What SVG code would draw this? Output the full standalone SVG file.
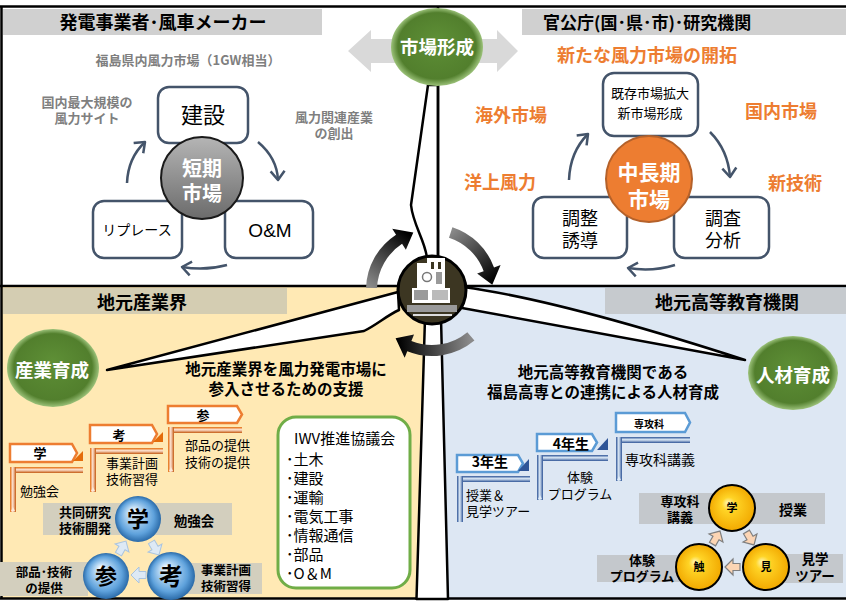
<svg xmlns="http://www.w3.org/2000/svg" width="846" height="602" viewBox="0 0 846 602">
  <style>
    text { font-family: "Noto Sans CJK JP", "Noto Sans", sans-serif; }
    .b { font-weight: 700; }
    .c { text-anchor: middle; }
    .gray { fill: #7F7F7F; }
    .org { fill: #ED7D31; }
    .wh { fill: #ffffff; }
    .box { fill: #ffffff; stroke: #44546A; stroke-width: 2.5; }
    .cyc { fill: none; stroke: #44546A; stroke-width: 2.5; marker-end: url(#chev); }
    .blade { fill: #ffffff; stroke: #000000; stroke-width: 2.5; stroke-linejoin: round; }
    .opent { fill: #ffffff; stroke: #ED7D31; stroke-width: 2.5; }
    .bpent { fill: #ffffff; stroke: #5B9BD5; stroke-width: 2.5; }
    .lblL { fill: #D3CFBE; }
    .lblR { fill: #C4C8CC; }
    .barow { fill: #DDE9F5; stroke: #A9C4E0; stroke-width: 1; }
    .parow { fill: #FCD5B4; stroke: #7F7F7F; stroke-width: 1.2; }
    .otip { fill: #FDE9D9; }
    .btip { fill: #DEEBF7; }
  </style>
  <defs>
    <marker id="chev" markerUnits="userSpaceOnUse" markerWidth="24" markerHeight="24" viewBox="-12 -12 24 24" refX="0" refY="0" orient="auto">
      <path d="M-9,-7 L0,0 L-9,7" fill="none" stroke="#44546A" stroke-width="2.5" stroke-linejoin="round"/>
    </marker>
    <radialGradient id="gBall" cx="50%" cy="50%" r="50%" fx="50%" fy="40%">
      <stop offset="0" stop-color="#5E8F36"/>
      <stop offset="0.85" stop-color="#527F2D"/>
      <stop offset="1" stop-color="#9CC27A"/>
    </radialGradient>
    <linearGradient id="grayBall" x1="0" y1="0" x2="0" y2="1">
      <stop offset="0" stop-color="#B5B5B5"/>
      <stop offset="1" stop-color="#6B6B6B"/>
    </linearGradient>
    <radialGradient id="blueBall" cx="50%" cy="50%" r="50%" fx="38%" fy="32%">
      <stop offset="0" stop-color="#FFFFFF"/>
      <stop offset="0.25" stop-color="#C4E0F7"/>
      <stop offset="0.75" stop-color="#5FA2DC"/>
      <stop offset="1" stop-color="#2A6AA8"/>
    </radialGradient>
    <radialGradient id="yelBall" cx="50%" cy="50%" r="50%" fx="40%" fy="38%">
      <stop offset="0" stop-color="#FFF6B0"/>
      <stop offset="0.3" stop-color="#FFD426"/>
      <stop offset="1" stop-color="#F2A900"/>
    </radialGradient>
    <linearGradient id="obH" x1="0" y1="0" x2="0" y2="1">
      <stop offset="0" stop-color="#E46C0A"/>
      <stop offset="0.45" stop-color="#FCE4D6"/>
      <stop offset="1" stop-color="#C55A11"/>
    </linearGradient>
    <linearGradient id="obV" x1="0" y1="0" x2="1" y2="0">
      <stop offset="0" stop-color="#E46C0A"/>
      <stop offset="0.45" stop-color="#FCE4D6"/>
      <stop offset="1" stop-color="#C55A11"/>
    </linearGradient>
    <linearGradient id="bbH" x1="0" y1="0" x2="0" y2="1">
      <stop offset="0" stop-color="#2F5597"/>
      <stop offset="0.45" stop-color="#DEEBF7"/>
      <stop offset="1" stop-color="#2F5597"/>
    </linearGradient>
    <linearGradient id="bbV" x1="0" y1="0" x2="1" y2="0">
      <stop offset="0" stop-color="#2F5597"/>
      <stop offset="0.45" stop-color="#DEEBF7"/>
      <stop offset="1" stop-color="#2F5597"/>
    </linearGradient>
    <linearGradient id="arc1" gradientUnits="userSpaceOnUse" x1="372" y1="288" x2="410" y2="235">
      <stop offset="0" stop-color="#8A8A8A"/>
      <stop offset="1" stop-color="#000000"/>
    </linearGradient>
    <linearGradient id="arc2" gradientUnits="userSpaceOnUse" x1="450" y1="232" x2="492" y2="282">
      <stop offset="0" stop-color="#8A8A8A"/>
      <stop offset="1" stop-color="#000000"/>
    </linearGradient>
    <linearGradient id="arc3" gradientUnits="userSpaceOnUse" x1="470" y1="336" x2="398" y2="340">
      <stop offset="0" stop-color="#8A8A8A"/>
      <stop offset="1" stop-color="#000000"/>
    </linearGradient>
    <path id="blk" d="M-7,-3.5 H0 V-8 L8,0 L0,8 V3.5 H-7 Z"/>
  </defs>

  <!-- quadrant backgrounds -->
  <rect x="0" y="0" width="846" height="602" fill="#ffffff"/>
  <rect x="2" y="287" width="422" height="311" fill="#FFE9B4"/>
  <rect x="424" y="287" width="422" height="311" fill="#DDE7F3"/>

  <!-- section headers -->
  <g id="hdr-makers">
    <rect x="3" y="9" width="319" height="26" fill="#D0D0D0"/>
    <text class="b c" x="163" y="29" font-size="18">発電事業者･風車メーカー</text>
  </g>
  <g id="hdr-gov">
    <rect x="522" y="9" width="324" height="26" fill="#D0D0D0"/>
    <text class="b" x="543" y="28.5" font-size="17">官公庁(国･県･市)･研究機関</text>
  </g>
  <g id="hdr-industry">
    <rect x="3" y="288" width="284" height="26" fill="#D4CDB2"/>
    <text class="b c" x="142" y="309" font-size="18">地元産業界</text>
  </g>
  <g id="hdr-college">
    <rect x="605" y="288" width="241" height="26" fill="#C6CACE"/>
    <text class="b c" x="727" y="309" font-size="18">地元高等教育機関</text>
  </g>

  <!-- frame lines -->
  <g id="frame" stroke="#000" fill="none">
    <line x1="0" y1="6.5" x2="846" y2="6.5" stroke-width="2.5"/>
    <line x1="1.5" y1="6" x2="1.5" y2="599" stroke-width="2.5"/>
    <line x1="0" y1="598.5" x2="846" y2="598.5" stroke-width="2.5"/>
    <line x1="0" y1="286" x2="846" y2="286" stroke-width="2.5"/>
  </g>

  <!-- wind turbine: tower and blades -->
  <g id="turbine">
    <path class="blade" d="M425,318 L416.5,599 L448,599 L441,318 Z"/>
    <path class="blade" d="M428,85 L411,205 C413,225 425,240 427,258 L438,258 L438,85 Z"/>
    <line x1="438" y1="7" x2="438" y2="258" stroke="#000" stroke-width="2.5"/>
    <path class="blade" d="M107,370 L398,292 L399,310 C386,316 378,324 364,331 Z"/>
    <path class="blade" d="M745,360 Q560,300 463,287 L462,308 Z"/>
  </g>

  <!-- rotating arrows round the hub -->
  <g id="hub-arrows">
    <path fill="url(#arc1)" d="M366.04,287.70 A66,66 0 0 1 396.06,234.65 L392.24,228.78 L413.31,232.46 L405.86,249.74 L402.05,243.87 A55,55 0 0 0 377.03,288.08 Z"/>
    <path fill="url(#arc2)" d="M452.39,227.23 A66,66 0 0 1 494.02,267.43 L500.60,265.03 L492.27,284.73 L477.11,273.58 L483.68,271.19 A55,55 0 0 0 449.00,237.69 Z"/>
    <path fill="url(#arc3)" d="M474.42,340.56 A66,66 0 0 1 407.28,351.19 L404.65,357.69 L395.59,338.32 L414.02,334.51 L411.40,341.00 A55,55 0 0 0 467.35,332.13 Z"/>
  </g>

  <!-- hub with school building emblem -->
  <g id="hub">
    <circle cx="432" cy="290" r="34" fill="#3C3622" stroke="#000" stroke-width="3"/>
    <rect x="417" y="263" width="10" height="25" fill="#fff"/>
    <rect x="427" y="258" width="18" height="30" fill="#fff"/>
    <rect x="431" y="262" width="3" height="7" fill="#3C3622"/>
    <rect x="438" y="262" width="3" height="7" fill="#3C3622"/>
    <rect x="436" y="272" width="6" height="12" fill="#9A9A9A"/>
    <circle cx="427" cy="277" r="4.5" fill="#fff" stroke="#777" stroke-width="1.5"/>
    <rect x="412" y="288" width="38" height="15" fill="#fff"/>
    <rect x="414" y="290" width="14" height="10" fill="#9A9A9A"/>
    <rect x="432" y="290" width="16" height="10" fill="#BBBBBB"/>
    <rect x="407" y="305" width="50" height="7" fill="#9A9A9A"/>
    <rect x="413" y="314" width="39" height="2" fill="#DDDDDD"/>
  </g>

  <!-- market formation badge -->
  <g id="market-forming">
    <polygon points="348,51 371,30 371,39 497,39 497,30 518,51 497,72 497,63 371,63 371,72" fill="#D9D9D9"/>
    <ellipse cx="437" cy="47" rx="46" ry="39" fill="url(#gBall)"/>
    <text class="b c wh" x="437" y="54" font-size="18.5">市場形成</text>
  </g>

  <!-- short-term market cycle -->
  <g id="short-term">
    <text class="b c gray" x="188" y="65" font-size="13">福島県内風力市場（1GW相当）</text>
    <text class="b c gray" font-size="13"><tspan x="87" y="106.5">国内最大規模の</tspan><tspan x="87" y="123">風力サイト</tspan></text>
    <text class="b c gray" font-size="13"><tspan x="334" y="121.5">風力関連産業</tspan><tspan x="334" y="138">の創出</tspan></text>
    <g id="st-build">
      <rect class="box" x="158" y="87" width="90" height="56" rx="11"/>
      <text class="c" x="203" y="123" font-size="22">建設</text>
    </g>
    <g id="st-replace">
      <rect class="box" x="93" y="201" width="89" height="57" rx="11"/>
      <text class="c" x="137" y="235" font-size="14">リプレース</text>
    </g>
    <g id="st-om">
      <rect class="box" x="225" y="201" width="88" height="57" rx="11"/>
      <text class="c" x="270" y="237" font-size="19" style="font-family:'Liberation Sans',sans-serif">O&amp;M</text>
    </g>
    <g id="st-core">
      <circle cx="202" cy="178" r="41" fill="url(#grayBall)" stroke="#1A1A1A" stroke-width="2"/>
      <text class="b c wh" font-size="20"><tspan x="202" y="175.5">短期</tspan><tspan x="202" y="200.5">市場</tspan></text>
    </g>
  </g>

  <!-- mid/long-term market cycle -->
  <g id="long-term">
    <text class="b c org" x="647" y="62" font-size="18">新たな風力市場の開拓</text>
    <text class="b c org" x="511" y="122" font-size="18">海外市場</text>
    <text class="b c org" x="781" y="118" font-size="18">国内市場</text>
    <text class="b c org" x="500" y="189" font-size="18">洋上風力</text>
    <text class="b c org" x="795" y="190" font-size="18">新技術</text>
    <g id="lt-expand">
      <rect class="box" x="603" y="73" width="95" height="63" rx="11"/>
      <text class="c" font-size="13"><tspan x="650" y="98">既存市場拡大</tspan><tspan x="650" y="118">新市場形成</tspan></text>
    </g>
    <g id="lt-coord">
      <rect class="box" x="533" y="197" width="94" height="61" rx="11"/>
      <text class="c" font-size="18"><tspan x="580" y="224.5">調整</tspan><tspan x="580" y="247">誘導</tspan></text>
    </g>
    <g id="lt-survey">
      <rect class="box" x="674" y="197" width="95" height="61" rx="11"/>
      <text class="c" font-size="18"><tspan x="723" y="224.5">調査</tspan><tspan x="723" y="247">分析</tspan></text>
    </g>
    <g id="lt-core">
      <circle cx="649" cy="179" r="43" fill="#ED7D31" stroke="#B4612A" stroke-width="2"/>
      <text class="b c wh" font-size="21"><tspan x="649" y="180">中長期</tspan><tspan x="649" y="206.5">市場</tspan></text>
    </g>
  </g>

  <!-- cycle connectors -->
  <g id="connectors">
    <path class="cyc" d="M127,183 Q128,158 145,142"/>
    <path class="cyc" d="M258,142 Q277,158 278,180"/>
    <path class="cyc" d="M227,265 Q205,271 182,267"/>
    <path class="cyc" d="M569,180 Q570,152 588,134"/>
    <path class="cyc" d="M710,132 Q728,150 730,177"/>
    <path class="cyc" d="M675,265 Q652,272 628,268"/>
  </g>

  <!-- industry support -->
  <g id="industry-growth">
    <ellipse cx="53" cy="368" rx="46" ry="39" fill="url(#gBall)"/>
    <text class="b c wh" x="52" y="377" font-size="18.5">産業育成</text>
  </g>
  <text class="b c" font-size="15.5"><tspan x="286" y="375">地元産業界を風力発電市場に</tspan><tspan x="286" y="394.5">参入させるための支援</tspan></text>

  <g id="step-learn">
    <path class="opent" d="M10,444 H72 L77,453 L72,462 H10 Z"/>
    <polygon points="73,461 83,461 83,451" fill="#E46C0A"/>
    <rect x="10" y="467" width="73" height="6" fill="url(#obH)"/>
    <rect x="10" y="467" width="6" height="45" fill="url(#obV)"/>
    <polygon class="otip" points="11,511 15,511 13,507"/>
    <text class="b c" x="40" y="458" font-size="13">学</text>
    <text x="20" y="496" font-size="13">勉強会</text>
  </g>
  <g id="step-think">
    <path class="opent" d="M90,425 H152 L157,434 L152,443 H90 Z"/>
    <polygon points="153,442 163,442 163,432" fill="#E46C0A"/>
    <rect x="90" y="448" width="73" height="6" fill="url(#obH)"/>
    <rect x="90" y="448" width="6" height="44" fill="url(#obV)"/>
    <polygon class="otip" points="91,491 95,491 93,487"/>
    <text class="b c" x="119" y="440" font-size="13">考</text>
    <text font-size="13"><tspan x="106" y="467.5">事業計画</tspan><tspan x="106" y="484">技術習得</tspan></text>
  </g>
  <g id="step-join">
    <path class="opent" d="M168,406 H237 L242,414.5 L237,423 H168 Z"/>
    <rect x="168" y="427" width="74" height="6" fill="url(#obH)"/>
    <rect x="168" y="427" width="6" height="45" fill="url(#obV)"/>
    <polygon class="otip" points="169,471 173,471 171,467"/>
    <text class="b c" x="203" y="420" font-size="13">参</text>
    <text font-size="13"><tspan x="185" y="450">部品の提供</tspan><tspan x="185" y="467">技術の提供</tspan></text>
  </g>

  <g id="ind-cycle">
    <rect class="lblL" x="43" y="503" width="189" height="32"/>
    <rect class="lblL" x="0" y="562" width="88" height="34"/>
    <rect class="lblL" x="185" y="563" width="77" height="31"/>
    <text class="b c" font-size="13"><tspan x="85" y="516.5">共同研究</tspan><tspan x="85" y="533">技術開発</tspan></text>
    <text class="b c" x="194" y="526" font-size="13.5">勉強会</text>
    <text class="b c" font-size="12.5"><tspan x="44" y="576.5">部品･技術</tspan><tspan x="44" y="592.5">の提供</tspan></text>
    <text class="b c" font-size="12.5"><tspan x="226" y="575">事業計画</tspan><tspan x="226" y="591">技術習得</tspan></text>
    <use href="#blk" class="barow" transform="translate(122,548) rotate(-60)"/>
    <use href="#blk" class="barow" transform="translate(155,548) rotate(60)"/>
    <use href="#blk" class="barow" transform="translate(139,575) rotate(180)"/>
    <circle cx="138" cy="519" r="23" fill="url(#blueBall)"/>
    <circle cx="106" cy="576" r="23" fill="url(#blueBall)"/>
    <circle cx="171" cy="576" r="24" fill="url(#blueBall)"/>
    <text class="b c" x="138" y="527" font-size="22">学</text>
    <text class="b c" x="106" y="584" font-size="22">参</text>
    <text class="b c" x="171" y="585" font-size="24">考</text>
  </g>

  <g id="iwv">
    <rect x="278" y="417" width="132" height="171" rx="18" fill="#fff" stroke="#70AD47" stroke-width="3"/>
    <text font-size="15"><tspan x="294" y="444">IWV推進協議会</tspan><tspan x="286" y="465">･土木</tspan><tspan x="286" y="484">･建設</tspan><tspan x="286" y="503">･運輸</tspan><tspan x="286" y="522">･電気工事</tspan><tspan x="286" y="541">･情報通信</tspan><tspan x="286" y="560">･部品</tspan><tspan x="286" y="579">･O＆M</tspan></text>
  </g>

  <!-- human resources development -->
  <g id="hr-growth">
    <ellipse cx="793" cy="373" rx="45" ry="37" fill="url(#gBall)"/>
    <text class="b c wh" x="793" y="382" font-size="18.5">人材育成</text>
  </g>
  <text class="b c" font-size="15.5"><tspan x="603" y="378">地元高等教育機関である</tspan><tspan x="603" y="398">福島高専との連携による人材育成</tspan></text>

  <g id="step-3rd">
    <path class="bpent" d="M457,455 H518 L523,463.5 L518,472 H457 Z"/>
    <polygon points="518,471 529,471 529,459" fill="#2F5597"/>
    <rect x="457" y="476" width="73" height="6" fill="url(#bbH)"/>
    <rect x="457" y="476" width="6" height="46" fill="url(#bbV)"/>
    <text class="b c" x="490" y="467" font-size="14">3年生</text>
    <text font-size="13"><tspan x="466" y="499.5">授業＆</tspan><tspan x="466" y="516">見学ツアー</tspan></text>
  </g>
  <g id="step-4th">
    <path class="bpent" d="M537,434 H592 L597,442.5 L592,451 H537 Z"/>
    <polygon points="597,450 608,450 608,438" fill="#2F5597"/>
    <rect x="537" y="455" width="71" height="6" fill="url(#bbH)"/>
    <rect x="537" y="455" width="6" height="45" fill="url(#bbV)"/>
    <polygon class="btip" points="538,499 542,499 540,495"/>
    <text class="b c" x="571" y="449" font-size="14">4年生</text>
    <text class="c" font-size="13"><tspan x="580" y="482">体験</tspan><tspan x="580" y="498.5">プログラム</tspan></text>
  </g>
  <g id="step-adv">
    <path class="bpent" d="M616,413 H685 L690,422.5 L685,432 H616 Z"/>
    <rect x="616" y="437" width="74" height="6" fill="url(#bbH)"/>
    <rect x="616" y="437" width="6" height="44" fill="url(#bbV)"/>
    <polygon class="btip" points="617,480 621,480 619,476"/>
    <text class="b c" x="649" y="428" font-size="10">専攻科</text>
    <text x="625" y="465" font-size="14">専攻科講義</text>
  </g>

  <g id="hr-cycle">
    <rect class="lblR" x="639" y="493" width="186" height="31"/>
    <rect class="lblR" x="597" y="555" width="100" height="27"/>
    <rect class="lblR" x="770" y="554" width="73" height="29"/>
    <text class="b c" font-size="13"><tspan x="680" y="505.5">専攻科</tspan><tspan x="680" y="522">講義</tspan></text>
    <text class="b c" x="793" y="515" font-size="14">授業</text>
    <text class="b c" font-size="13"><tspan x="642" y="564.5">体験</tspan><tspan x="642" y="581">プログラム</tspan></text>
    <text class="b c" font-size="13.5"><tspan x="815" y="564">見学</tspan><tspan x="815" y="581">ツアー</tspan></text>
    <use href="#blk" class="parow" transform="translate(716,538) rotate(-60)"/>
    <use href="#blk" class="parow" transform="translate(750,538) rotate(60)"/>
    <use href="#blk" class="parow" transform="translate(733,567) rotate(180)"/>
    <circle cx="732" cy="508" r="23" fill="url(#yelBall)" stroke="#000" stroke-width="2"/>
    <circle cx="699" cy="567" r="23" fill="url(#yelBall)" stroke="#000" stroke-width="2"/>
    <circle cx="766" cy="567" r="23" fill="url(#yelBall)" stroke="#000" stroke-width="2"/>
    <text class="b c" x="732" y="512" font-size="11">学</text>
    <text class="b c" x="699" y="571" font-size="11">触</text>
    <text class="b c" x="766" y="571" font-size="11">見</text>
  </g>
</svg>
